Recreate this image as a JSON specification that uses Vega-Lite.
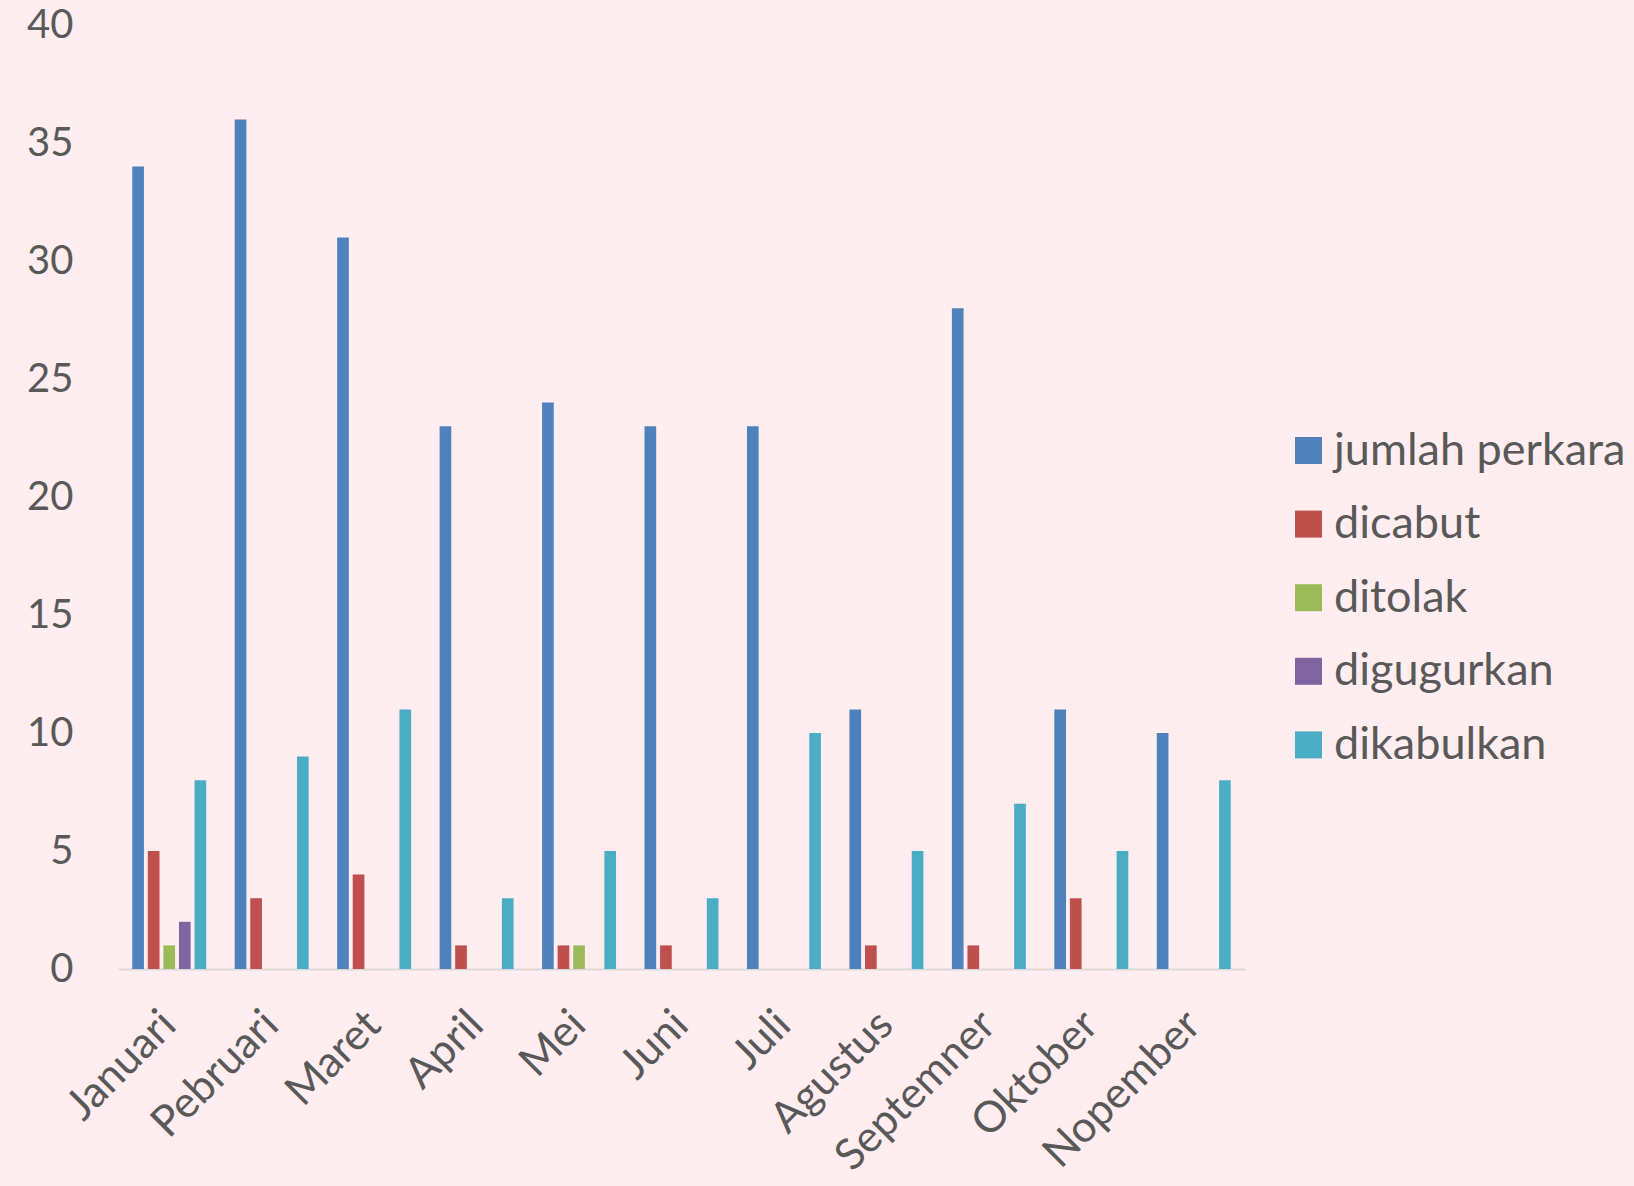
{
  "$schema": "https://vega.github.io/schema/vega-lite/v6.json",
  "width": 1127,
  "height": 944,
  "autosize": {"type": "none"},
  "padding": {"left": 118, "top": 25, "right": 389, "bottom": 217},
  "background": "#FFEDEF",
  "config": {
    "view": {"stroke": null},
    "font": "Lato",
    "axis": {"labelFont": "Lato", "labelColor": "#595959", "labelFontSize": 40, "ticks": false, "grid": false, "labelLimit": 0},
    "legend": {"labelFont": "Lato", "labelColor": "#595959", "labelFontSize": 45, "labelLimit": 0}
  },
  "data": {
    "values": [
      {"bulan": "Januari", "kategori": "jumlah perkara", "nilai": 34},
      {"bulan": "Januari", "kategori": "dicabut", "nilai": 5},
      {"bulan": "Januari", "kategori": "ditolak", "nilai": 1},
      {"bulan": "Januari", "kategori": "digugurkan", "nilai": 2},
      {"bulan": "Januari", "kategori": "dikabulkan", "nilai": 8},
      {"bulan": "Pebruari", "kategori": "jumlah perkara", "nilai": 36},
      {"bulan": "Pebruari", "kategori": "dicabut", "nilai": 3},
      {"bulan": "Pebruari", "kategori": "ditolak", "nilai": 0},
      {"bulan": "Pebruari", "kategori": "digugurkan", "nilai": 0},
      {"bulan": "Pebruari", "kategori": "dikabulkan", "nilai": 9},
      {"bulan": "Maret", "kategori": "jumlah perkara", "nilai": 31},
      {"bulan": "Maret", "kategori": "dicabut", "nilai": 4},
      {"bulan": "Maret", "kategori": "ditolak", "nilai": 0},
      {"bulan": "Maret", "kategori": "digugurkan", "nilai": 0},
      {"bulan": "Maret", "kategori": "dikabulkan", "nilai": 11},
      {"bulan": "April", "kategori": "jumlah perkara", "nilai": 23},
      {"bulan": "April", "kategori": "dicabut", "nilai": 1},
      {"bulan": "April", "kategori": "ditolak", "nilai": 0},
      {"bulan": "April", "kategori": "digugurkan", "nilai": 0},
      {"bulan": "April", "kategori": "dikabulkan", "nilai": 3},
      {"bulan": "Mei", "kategori": "jumlah perkara", "nilai": 24},
      {"bulan": "Mei", "kategori": "dicabut", "nilai": 1},
      {"bulan": "Mei", "kategori": "ditolak", "nilai": 1},
      {"bulan": "Mei", "kategori": "digugurkan", "nilai": 0},
      {"bulan": "Mei", "kategori": "dikabulkan", "nilai": 5},
      {"bulan": "Juni", "kategori": "jumlah perkara", "nilai": 23},
      {"bulan": "Juni", "kategori": "dicabut", "nilai": 1},
      {"bulan": "Juni", "kategori": "ditolak", "nilai": 0},
      {"bulan": "Juni", "kategori": "digugurkan", "nilai": 0},
      {"bulan": "Juni", "kategori": "dikabulkan", "nilai": 3},
      {"bulan": "Juli", "kategori": "jumlah perkara", "nilai": 23},
      {"bulan": "Juli", "kategori": "dicabut", "nilai": 0},
      {"bulan": "Juli", "kategori": "ditolak", "nilai": 0},
      {"bulan": "Juli", "kategori": "digugurkan", "nilai": 0},
      {"bulan": "Juli", "kategori": "dikabulkan", "nilai": 10},
      {"bulan": "Agustus", "kategori": "jumlah perkara", "nilai": 11},
      {"bulan": "Agustus", "kategori": "dicabut", "nilai": 1},
      {"bulan": "Agustus", "kategori": "ditolak", "nilai": 0},
      {"bulan": "Agustus", "kategori": "digugurkan", "nilai": 0},
      {"bulan": "Agustus", "kategori": "dikabulkan", "nilai": 5},
      {"bulan": "Septemner", "kategori": "jumlah perkara", "nilai": 28},
      {"bulan": "Septemner", "kategori": "dicabut", "nilai": 1},
      {"bulan": "Septemner", "kategori": "ditolak", "nilai": 0},
      {"bulan": "Septemner", "kategori": "digugurkan", "nilai": 0},
      {"bulan": "Septemner", "kategori": "dikabulkan", "nilai": 7},
      {"bulan": "Oktober", "kategori": "jumlah perkara", "nilai": 11},
      {"bulan": "Oktober", "kategori": "dicabut", "nilai": 3},
      {"bulan": "Oktober", "kategori": "ditolak", "nilai": 0},
      {"bulan": "Oktober", "kategori": "digugurkan", "nilai": 0},
      {"bulan": "Oktober", "kategori": "dikabulkan", "nilai": 5},
      {"bulan": "Nopember", "kategori": "jumlah perkara", "nilai": 10},
      {"bulan": "Nopember", "kategori": "dicabut", "nilai": 0},
      {"bulan": "Nopember", "kategori": "ditolak", "nilai": 0},
      {"bulan": "Nopember", "kategori": "digugurkan", "nilai": 0},
      {"bulan": "Nopember", "kategori": "dikabulkan", "nilai": 8}
    ]
  },
  "mark": {"type": "bar"},
  "encoding": {
    "x": {
      "field": "bulan",
      "type": "nominal",
      "sort": null,
      "scale": {"paddingInner": 0.24, "paddingOuter": 0.12},
      "axis": {"title": null, "labelAngle": -45, "labelAlign": "right", "labelBaseline": "top", "labelFontSize": 43, "labelPadding": 34, "labelOffset": -15, "domainColor": "#D9D9D9", "domainWidth": 2}
    },
    "xOffset": {
      "field": "kategori",
      "type": "nominal",
      "sort": ["jumlah perkara", "dicabut", "ditolak", "digugurkan", "dikabulkan"],
      "scale": {"paddingInner": 0.25, "paddingOuter": 0.125}
    },
    "y": {
      "field": "nilai",
      "type": "quantitative",
      "scale": {"domain": [0, 40]},
      "axis": {"title": null, "values": [0, 5, 10, 15, 20, 25, 30, 35, 40], "domain": false, "labelPadding": 45}
    },
    "color": {
      "field": "kategori",
      "type": "nominal",
      "sort": ["jumlah perkara", "dicabut", "ditolak", "digugurkan", "dikabulkan"],
      "scale": {
        "domain": ["jumlah perkara", "dicabut", "ditolak", "digugurkan", "dikabulkan"],
        "range": ["#4F81BD", "#C0504D", "#9BBB59", "#8064A2", "#4BACC6"]
      },
      "legend": {
        "title": null,
        "orient": "none",
        "legendX": 1168,
        "legendY": 403,
        "symbolType": "square",
        "symbolSize": 729,
        "symbolStrokeWidth": 0,
        "labelOffset": 3,
        "rowPadding": 27.6
      }
    }
  }
}
